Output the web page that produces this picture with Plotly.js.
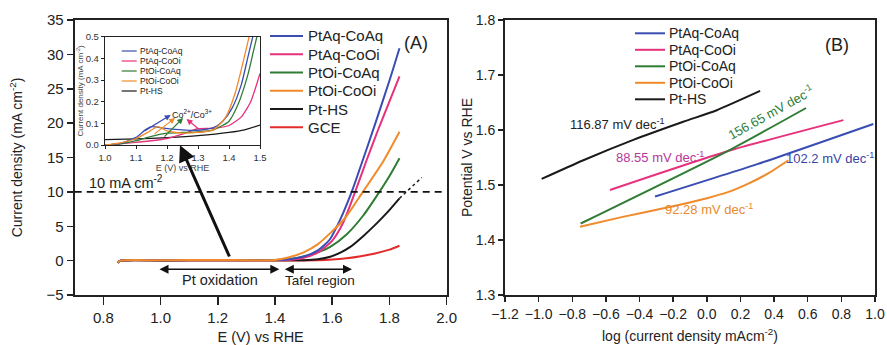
<!DOCTYPE html>
<html><head><meta charset="utf-8">
<script src="https://cdn.plot.ly/plotly-3.0.1.min.js"></script>
<style>html,body{margin:0;padding:0;background:#fff}</style>
</head><body><div id="chart" style="width:887px;height:345px"></div>
<script>
// ---------- series ----------
const seriesNames  = ['PtAq-CoAq','PtAq-CoOi','PtOi-CoAq','PtOi-CoOi','Pt-HS','GCE'];
const seriesColors = ['#3a4db3','#e8317c','#2f7d34','#f08a2a','#1a1a1a','#e32b2b'];

// ---------- Panel A: LSV (E vs RHE, current density mA cm-2) ----------
const lsvE_PtAqCoAq = [0.85,0.86,1.0,1.2,1.4,1.45,1.5,1.55,1.59,1.627,1.668,1.70,1.75,1.80,1.835];
const lsvI_PtAqCoAq = [-0.3,0,0.05,0.1,0.1,0.2,0.6,1.5,3.0,5.9,10,13.8,19.9,26.2,30.9];
const lsvE_PtAqCoOi = [0.85,0.86,1.0,1.2,1.4,1.45,1.5,1.55,1.6,1.638,1.68,1.72,1.76,1.808,1.835];
const lsvI_PtAqCoOi = [-0.3,0,0.05,0.1,0.1,0.1,0.4,1.2,2.9,5.5,10,14.6,19.0,24.0,26.8];
const lsvE_PtOiCoAq = [0.85,0.86,1.0,1.2,1.4,1.45,1.5,1.55,1.593,1.65,1.709,1.765,1.8,1.835];
const lsvI_PtOiCoAq = [-0.3,0,0.05,0.1,0.1,0.2,0.6,1.2,2.0,3.8,6.6,10,12.3,14.9];
const lsvE_PtOiCoOi = [0.85,0.86,1.0,1.2,1.4,1.45,1.5,1.55,1.593,1.645,1.707,1.779,1.835];
const lsvI_PtOiCoOi = [-0.3,0,0.05,0.1,0.1,0.5,1.2,2.4,4.0,6.2,10,14.5,18.75];
const lsvE_PtHS = [0.85,0.86,1.0,1.2,1.4,1.5,1.55,1.593,1.63,1.663,1.709,1.75,1.79,1.835];
const lsvI_PtHS = [-0.3,0,0.03,0.05,0.05,0.05,0.2,0.57,1.2,2.0,3.6,5.2,6.9,9.06];
const lsvE_PtHS_extrap = [1.835,1.913];
const lsvI_PtHS_extrap = [9.06,12.1];
const lsvE_GCE = [0.85,0.86,1.0,1.2,1.4,1.5,1.55,1.6,1.65,1.7,1.75,1.8,1.835];
const lsvI_GCE = [-0.3,0,0.02,0.03,0.03,0.03,0.05,0.15,0.35,0.65,1.05,1.6,2.17];
const targetCurrent = 10;

// ---------- Inset: low-current region ----------
const insE_PtAqCoAq = [1.0,1.05,1.1,1.13,1.15,1.19,1.25,1.3,1.35,1.38,1.41,1.44,1.46,1.48];
const insI_PtAqCoAq = [0.0,0.008,0.035,0.07,0.085,0.078,0.07,0.068,0.08,0.11,0.17,0.28,0.4,0.52];
const insE_PtAqCoOi = [1.0,1.1,1.2,1.25,1.3,1.35,1.4,1.44,1.47,1.5];
const insI_PtAqCoOi = [0.0,0.012,0.03,0.05,0.075,0.077,0.09,0.13,0.2,0.33];
const insE_PtOiCoAq = [1.0,1.05,1.1,1.15,1.2,1.25,1.3,1.35,1.4,1.43,1.46,1.48,1.5];
const insI_PtOiCoAq = [0.0,0.005,0.02,0.04,0.055,0.058,0.06,0.07,0.11,0.19,0.32,0.44,0.56];
const insE_PtOiCoOi = [1.0,1.05,1.1,1.14,1.17,1.2,1.25,1.3,1.35,1.39,1.42,1.44,1.46,1.47];
const insI_PtOiCoOi = [0.0,0.01,0.03,0.06,0.085,0.065,0.055,0.058,0.07,0.13,0.24,0.35,0.47,0.53];
const insE_PtHS = [1.0,1.1,1.2,1.3,1.4,1.45,1.5];
const insI_PtHS = [0.025,0.028,0.034,0.043,0.058,0.07,0.092];

// ---------- Panel B: Tafel ----------
const tafX_PtAqCoAq = [-0.308,0.3,0.99];
const tafY_PtAqCoAq = [1.479,1.538,1.611];
const tafX_PtAqCoOi = [-0.576,0.118,0.812];
const tafY_PtAqCoOi = [1.491,1.561,1.618];
const tafX_PtOiCoAq = [-0.75,0.138,0.59];
const tafY_PtOiCoAq = [1.43,1.564,1.64];
const tafX_PtOiCoOi = [-0.754,-0.5,-0.25,0.0,0.125,0.25,0.37,0.485];
const tafY_PtOiCoOi = [1.424,1.442,1.458,1.476,1.487,1.503,1.522,1.545];
const tafX_PtHS = [-0.982,-0.734,-0.437,-0.14,0.059,0.317];
const tafY_PtHS = [1.511,1.545,1.582,1.615,1.636,1.671];
const tafelSlopes = ['102.2','88.55','156.65','92.28','116.87'];

const xTicksA = [0.8,1.0,1.2,1.4,1.6,1.8,2.0];
const yTicksA = [-5,0,5,10,15,20,25,30,35];
const xTicksB = [-1.2,-1.0,-0.8,-0.6,-0.4,-0.2,0.0,0.2,0.4,0.6,0.8,1.0];
const yTicksB = [1.3,1.4,1.5,1.6,1.7,1.8];

// ---------- helpers ----------
const W = 887, H = 345;
const px = x => x / W;
const py = y => 1 - y / H;
const FONT = 'Liberation Sans, Arial, sans-serif';
const TXT = '#222';

const traces = [];
function line(x, y, color, xa, ya, width, extra) {
  traces.push(Object.assign({x: x, y: y, type: 'scatter', mode: 'lines',
    line: {color: color, width: width, shape: 'spline', smoothing: 0.6},
    xaxis: xa, yaxis: ya, showlegend: false, hoverinfo: 'skip'}, extra || {}));
}

// Panel A (drawing order: GCE, Pt-HS, PtOi-CoAq, PtAq-CoOi, PtAq-CoAq, PtOi-CoOi)
line(lsvE_GCE, lsvI_GCE, seriesColors[5], 'x', 'y', 2);
line(lsvE_PtHS, lsvI_PtHS, seriesColors[4], 'x', 'y', 2);
line(lsvE_PtHS_extrap, lsvI_PtHS_extrap, seriesColors[4], 'x', 'y', 1.5, {line: {color: seriesColors[4], width: 1.5, dash: 'dot'}});
line(lsvE_PtOiCoAq, lsvI_PtOiCoAq, seriesColors[2], 'x', 'y', 2);
line(lsvE_PtAqCoOi, lsvI_PtAqCoOi, seriesColors[1], 'x', 'y', 2);
line(lsvE_PtAqCoAq, lsvI_PtAqCoAq, seriesColors[0], 'x', 'y', 2);
line(lsvE_PtOiCoOi, lsvI_PtOiCoOi, seriesColors[3], 'x', 'y', 2);

// Inset
line(insE_PtHS, insI_PtHS, seriesColors[4], 'x3', 'y3', 1.3);
line(insE_PtAqCoOi, insI_PtAqCoOi, seriesColors[1], 'x3', 'y3', 1.3);
line(insE_PtOiCoAq, insI_PtOiCoAq, seriesColors[2], 'x3', 'y3', 1.3);
line(insE_PtAqCoAq, insI_PtAqCoAq, seriesColors[0], 'x3', 'y3', 1.3);
line(insE_PtOiCoOi, insI_PtOiCoOi, seriesColors[3], 'x3', 'y3', 1.3);

// Panel B
line(tafX_PtAqCoAq, tafY_PtAqCoAq, seriesColors[0], 'x2', 'y2', 2);
line(tafX_PtAqCoOi, tafY_PtAqCoOi, seriesColors[1], 'x2', 'y2', 2);
line(tafX_PtOiCoAq, tafY_PtOiCoAq, seriesColors[2], 'x2', 'y2', 2);
line(tafX_PtOiCoOi, tafY_PtOiCoOi, seriesColors[3], 'x2', 'y2', 2);
line(tafX_PtHS, tafY_PtHS, seriesColors[4], 'x2', 'y2', 2);

const shapes = [];
const annotations = [];

// reference line at 10 mA cm-2
shapes.push({type: 'line', xref: 'x domain', x0: 0, x1: 1, yref: 'y', y0: targetCurrent, y1: targetCurrent,
  line: {color: '#111', width: 1.8, dash: '7px,5px'}});

// manual legends
function legend(n, y0, dy, xl0, xl1, xt, fs, lw) {
  for (let i = 0; i < n; i++) {
    const y = y0 + i * dy;
    shapes.push({type: 'line', xref: 'paper', yref: 'paper', x0: px(xl0), x1: px(xl1), y0: py(y), y1: py(y),
      line: {color: seriesColors[i], width: lw}});
    annotations.push({xref: 'paper', yref: 'paper', x: px(xt), y: py(y), xanchor: 'left', yanchor: 'middle',
      text: seriesNames[i], showarrow: false, font: {family: FONT, size: fs, color: TXT}});
  }
}
legend(6, 36, 18.25, 270, 303, 305.5, 15, 2);
legend(5, 33.3, 16.5, 635, 665, 667, 14, 2);
legend(5, 51, 10, 121.7, 136.7, 137.5, 8.5, 1.2);

function txt(x, y, xref, yref, text, size, color, extra) {
  annotations.push(Object.assign({x: x, y: y, xref: xref, yref: yref, text: text, showarrow: false,
    xanchor: 'center', yanchor: 'middle',
    font: {family: FONT, size: size, color: color}}, extra || {}));
}
txt(px(416), py(43), 'paper', 'paper', '(A)', 18, TXT);
txt(px(837), py(45), 'paper', 'paper', '(B)', 18, TXT);
txt(0.879, 11.43, 'x', 'y', '10 mA cm<sup>-2</sup>', 14.5, TXT);
txt(1.208, -2.82, 'x', 'y', 'Pt oxidation', 14.5, TXT);
txt(1.558, -2.82, 'x', 'y', 'Tafel region', 13.5, TXT);
txt(1.281, 0.143, 'x3', 'y3', 'Co<sup>2+</sup>/Co<sup>3+</sup>', 9, TXT);

function arrow(x, y, ax, ay, xr, yr, color, w, size, side) {
  annotations.push({x: x, y: y, ax: ax, ay: ay, xref: xr, yref: yr, axref: xr, ayref: yr, text: '',
    showarrow: true, arrowhead: 2, arrowsize: size, arrowwidth: w, arrowcolor: color,
    arrowside: side || 'end', startarrowhead: 2, startarrowsize: size});
}
arrow(1.068, 16.8, 1.243, 0.38, 'x', 'y', '#111', 3, 1.1);
arrow(1.415, -1.27, 0.991, -1.27, 'x', 'y', '#111', 1.5, 1.2, 'end+start');
arrow(1.669, -1.27, 1.429, -1.27, 'x', 'y', '#111', 1.5, 1.2, 'end+start');
arrow(1.212, 0.139, 1.123, 0.061, 'x3', 'y3', seriesColors[0], 1.2, 1);
arrow(1.226, 0.125, 1.155, 0.046, 'x3', 'y3', seriesColors[3], 1.2, 1);
arrow(1.252, 0.125, 1.187, 0.032, 'x3', 'y3', seriesColors[2], 1.2, 1);
arrow(1.263, 0.12, 1.306, 0.069, 'x3', 'y3', seriesColors[1], 1.2, 1);

// Tafel slope labels
const dec = ' mV dec<sup>-1</sup>';
txt(0.732, 1.549, 'x2', 'y2', tafelSlopes[0] + dec, 13, '#3844a8');
txt(-0.278, 1.551, 'x2', 'y2', tafelSlopes[1] + dec, 13, '#b8359c');
txt(0.38, 1.632, 'x2', 'y2', tafelSlopes[2] + dec, 13, '#2f7d34', {textangle: -29});
txt(0.013, 1.456, 'x2', 'y2', tafelSlopes[3] + dec, 13, '#e8892e');
txt(-0.534, 1.611, 'x2', 'y2', tafelSlopes[4] + dec, 13, TXT);

function axis(o) {
  return Object.assign({showgrid: false, zeroline: false, showline: true, linecolor: '#222', linewidth: 2,
    mirror: true, ticks: 'outside', tickcolor: '#222', tickwidth: 1.5, ticklen: 6,
    tickfont: {family: FONT, size: 14, color: TXT}, automargin: false}, o);
}

const layout = {
  width: W, height: H, margin: {l: 0, r: 0, t: 0, b: 0},
  paper_bgcolor: '#fff', plot_bgcolor: '#fff', showlegend: false,
  font: {family: FONT, color: TXT},
  xaxis: axis({domain: [px(74.7), px(446.7)], range: [0.7, 2.0], tickvals: xTicksA, tickformat: '.1f', anchor: 'y',
    ticklen: 8, tickfont: {family: FONT, size: 15, color: TXT},
    title: {text: 'E (V) vs RHE', font: {family: FONT, size: 14.5, color: TXT}, standoff: 11}}),
  yaxis: axis({domain: [py(295), py(20)], range: [-5, 35], tickvals: yTicksA, anchor: 'x',
    tickfont: {family: FONT, size: 15, color: TXT},
    title: {text: 'Current density (mA cm<sup>-2</sup>)', font: {family: FONT, size: 14, color: TXT}, standoff: 21}}),
  xaxis2: axis({domain: [px(505), px(875)], range: [-1.2, 1.0], tickvals: xTicksB, tickformat: '.1f', anchor: 'y2', ticklen: 5,
    title: {text: 'log (current density mAcm<sup>-2</sup>)', font: {family: FONT, size: 14, color: TXT}, standoff: 10}}),
  yaxis2: axis({domain: [py(295), py(20)], range: [1.3, 1.8], tickvals: yTicksB, tickformat: '.1f', anchor: 'x2', ticklen: 5,
    title: {text: 'Potential V vs RHE', font: {family: FONT, size: 14, color: TXT}, standoff: 0}}),
  xaxis3: axis({domain: [px(105), px(260)], range: [1.0, 1.5], dtick: 0.1, tick0: 1.0, tickformat: '.1f', anchor: 'y3',
    linewidth: 1.2, tickwidth: 1, ticklen: 3, tickfont: {family: FONT, size: 9.5, color: '#333'},
    title: {text: 'E (V) vs RHE', font: {family: FONT, size: 9, color: '#444'}, standoff: 0}}),
  yaxis3: axis({domain: [py(145), py(36.7)], range: [0, 0.5], dtick: 0.1, tick0: 0, tickformat: '.1f', anchor: 'x3',
    linewidth: 1.2, tickwidth: 1, ticklen: 3, tickfont: {family: FONT, size: 9.5, color: '#333'},
    title: {text: 'Current density (mA cm<sup>-2</sup>)', font: {family: FONT, size: 8, color: '#444'}, standoff: 0}}),
  shapes: shapes,
  annotations: annotations
};

Plotly.newPlot('chart', traces, layout, {staticPlot: true, displayModeBar: false});
</script></body></html>
